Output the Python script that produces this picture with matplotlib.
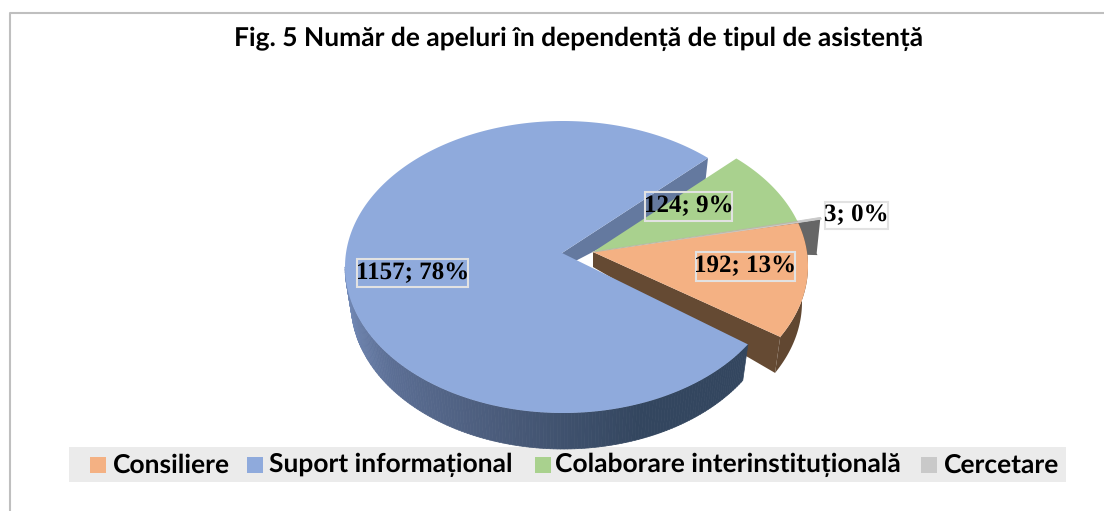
import numpy as np
import matplotlib
matplotlib.use('Agg')
import matplotlib.pyplot as plt
from matplotlib.collections import PolyCollection
from matplotlib.colors import LinearSegmentedColormap
from matplotlib.patches import Rectangle

plt.rcParams['text.hinting'] = 'none'

# valori din figura
categories = ['Consiliere', 'Suport informațional', 'Colaborare interinstituțională', 'Cercetare']
values = [192, 1157, 124, 3]
percents = [13, 78, 9, 0]
top_colors = ['#f4b183', '#8faadc', '#a9d18e', '#c9c9c9']

W, H = 1104, 511
DEPTH = 36


def arc(center, a, b, t0, t1, n=120):
    t = np.radians(np.linspace(t0, t1, n))
    return np.column_stack([center[0] + a * np.cos(t), center[1] - b * np.sin(t)])


fig = plt.figure(figsize=(W / 100, H / 100), dpi=100)
ax = fig.add_axes([0, 0, 1, 1])
ax.set_xlim(0, W)
ax.set_ylim(H, 0)
ax.axis('off')

# cadrul: doar stanga si sus se vad
ax.plot([9.5, 9.5, W], [H, 13, 13], color='#bfbfbf', lw=1.5)

# unghiurile feliilor (parametric pe elipsa), in sens trigonometric
start = -29.5
scale = 360 / sum(values)
a_orange = (start, start + values[0] * scale)
a_gray = (a_orange[1], a_orange[1] + values[3] * scale)
a_green = (a_gray[1], a_gray[1] + values[2] * scale)
a_blue = (a_green[1], a_green[1] + values[1] * scale - 2.5)  # perspectiva trage capatul putin

# legenda (fundal)
ax.fill_between([68.5, 1066], 447, 482, color='#ebebeb', lw=0, zorder=1)

# geometrie
blue_c, blue_apex = (563, 267), (562, 253)
expl_c, expl_apex = (594, 266), (593, 252)
gray_c, gray_apex = (617, 262), (616, 250)

# fata radiala a feliei albastre
p = arc(blue_c, 218, 146, a_blue[0], a_blue[0], 1)[0]
q = arc((blue_c[0], blue_c[1] + DEPTH), 212, 146, a_blue[0], a_blue[0], 1)[0]
ax.fill([blue_apex[0], p[0], q[0], blue_apex[0]],
        [blue_apex[1], p[1], q[1], blue_apex[1] + 15], color='#64799f', lw=0, zorder=2)

# felia gri (aproape doar peretele)
g_top = arc(gray_c, 214, 144, *a_gray, 6)
g_bot = arc((gray_c[0], gray_c[1] + DEPTH), 210, 144, *a_gray, 6)
ax.fill(*np.vstack([[gray_apex], g_top, g_bot[::-1]]).T, color='#666666', lw=0, zorder=3)
ax.fill(*np.vstack([[gray_apex], g_top]).T, color=top_colors[3], lw=0.6, ec=top_colors[3], zorder=3)

# felia portocalie: perete + fata radiala
o_top = arc(expl_c, 214, 144, *a_orange)
o_bot = arc((expl_c[0], expl_c[1] + DEPTH), 208, 144, *a_orange)
ax.fill(*np.vstack([o_top, o_bot[::-1]]).T, color='#614731', lw=0, zorder=4)
ax.fill(*np.vstack([[expl_apex], o_top[0], o_bot[0], [(expl_apex[0], expl_apex[1] + 15)]]).T,
        color='#654a33', lw=0, zorder=4)
ax.fill(*np.vstack([[expl_apex], o_top]).T, color=top_colors[0], lw=0, zorder=5)

# felia verde
gr_top = arc(expl_c, 214, 144, *a_green)
ax.fill(*np.vstack([[expl_apex], gr_top]).T, color=top_colors[2], lw=0, zorder=5)
ax.plot([expl_apex[0], gr_top[0, 0]], [expl_apex[1], gr_top[0, 1]], color='#b9b9a6', lw=0.8, zorder=5)

# peretele albastru cu gradient
cmap = LinearSegmentedColormap.from_list('side', ['#7a92c0', '#5c6f95', '#4a5b7a', '#33465f', '#33465f'])
b_top = arc(blue_c, 218, 146, 180, a_blue[1], 160)
b_bot = arc((blue_c[0], blue_c[1] + DEPTH), 212, 146, 180, a_blue[1], 160)
quads = [[b_top[i], b_top[i + 1], b_bot[i + 1], b_bot[i]] for i in range(len(b_top) - 1)]
shade = np.linspace(0, 1, len(quads))
ax.add_collection(PolyCollection(quads, facecolors=cmap(shade), edgecolors=cmap(shade), linewidths=0.5, zorder=6))

# felia albastra, sus
b_wedge = arc(blue_c, 218, 146, *a_blue, 300)
ax.fill(*np.vstack([[blue_apex], b_wedge]).T, color=top_colors[1], lw=0, zorder=7)

# etichete, cu chenarul separat ca sa iasa inaltimea buna
label_box = [(696, 252, 99, 29), (357, 259, 111, 28), (645, 192, 87, 29), (825, 202, 63, 27)]
label_bg = ['none', 'none', 'none', 'white']
for v, pc, box, bg in zip(values, percents, label_box, label_bg):
    ax.add_patch(Rectangle(box[:2], box[2], box[3], fc=bg, ec='#e2e2e2', lw=1.5, zorder=8))
    ax.text(box[0] + box[2] / 2, box[1] + box[3] / 2, f'{v}; {pc}%', family='Liberation Serif', weight='bold',
            fontsize=18, ha='center', va='center', zorder=9)

# titlu
ax.text(579, 39, 'Fig. 5 Număr de apeluri în dependență de tipul de asistență', family='Lato', weight='bold',
        fontsize=19, ha='center', va='center', color='black', zorder=8)

# legenda
swatch_x = [90, 247, 535, 921]
text_x = [113, 269, 555, 944]
for name, color, sx, tx in zip(categories, top_colors, swatch_x, text_x):
    ax.fill_between([sx, sx + 16], 457, 473, color=color, lw=0, zorder=8)
    ax.text(tx, 465, name, family='Lato', weight='bold', fontsize=19, ha='left', va='center', zorder=8)

fig.savefig('out.png', dpi=100)
